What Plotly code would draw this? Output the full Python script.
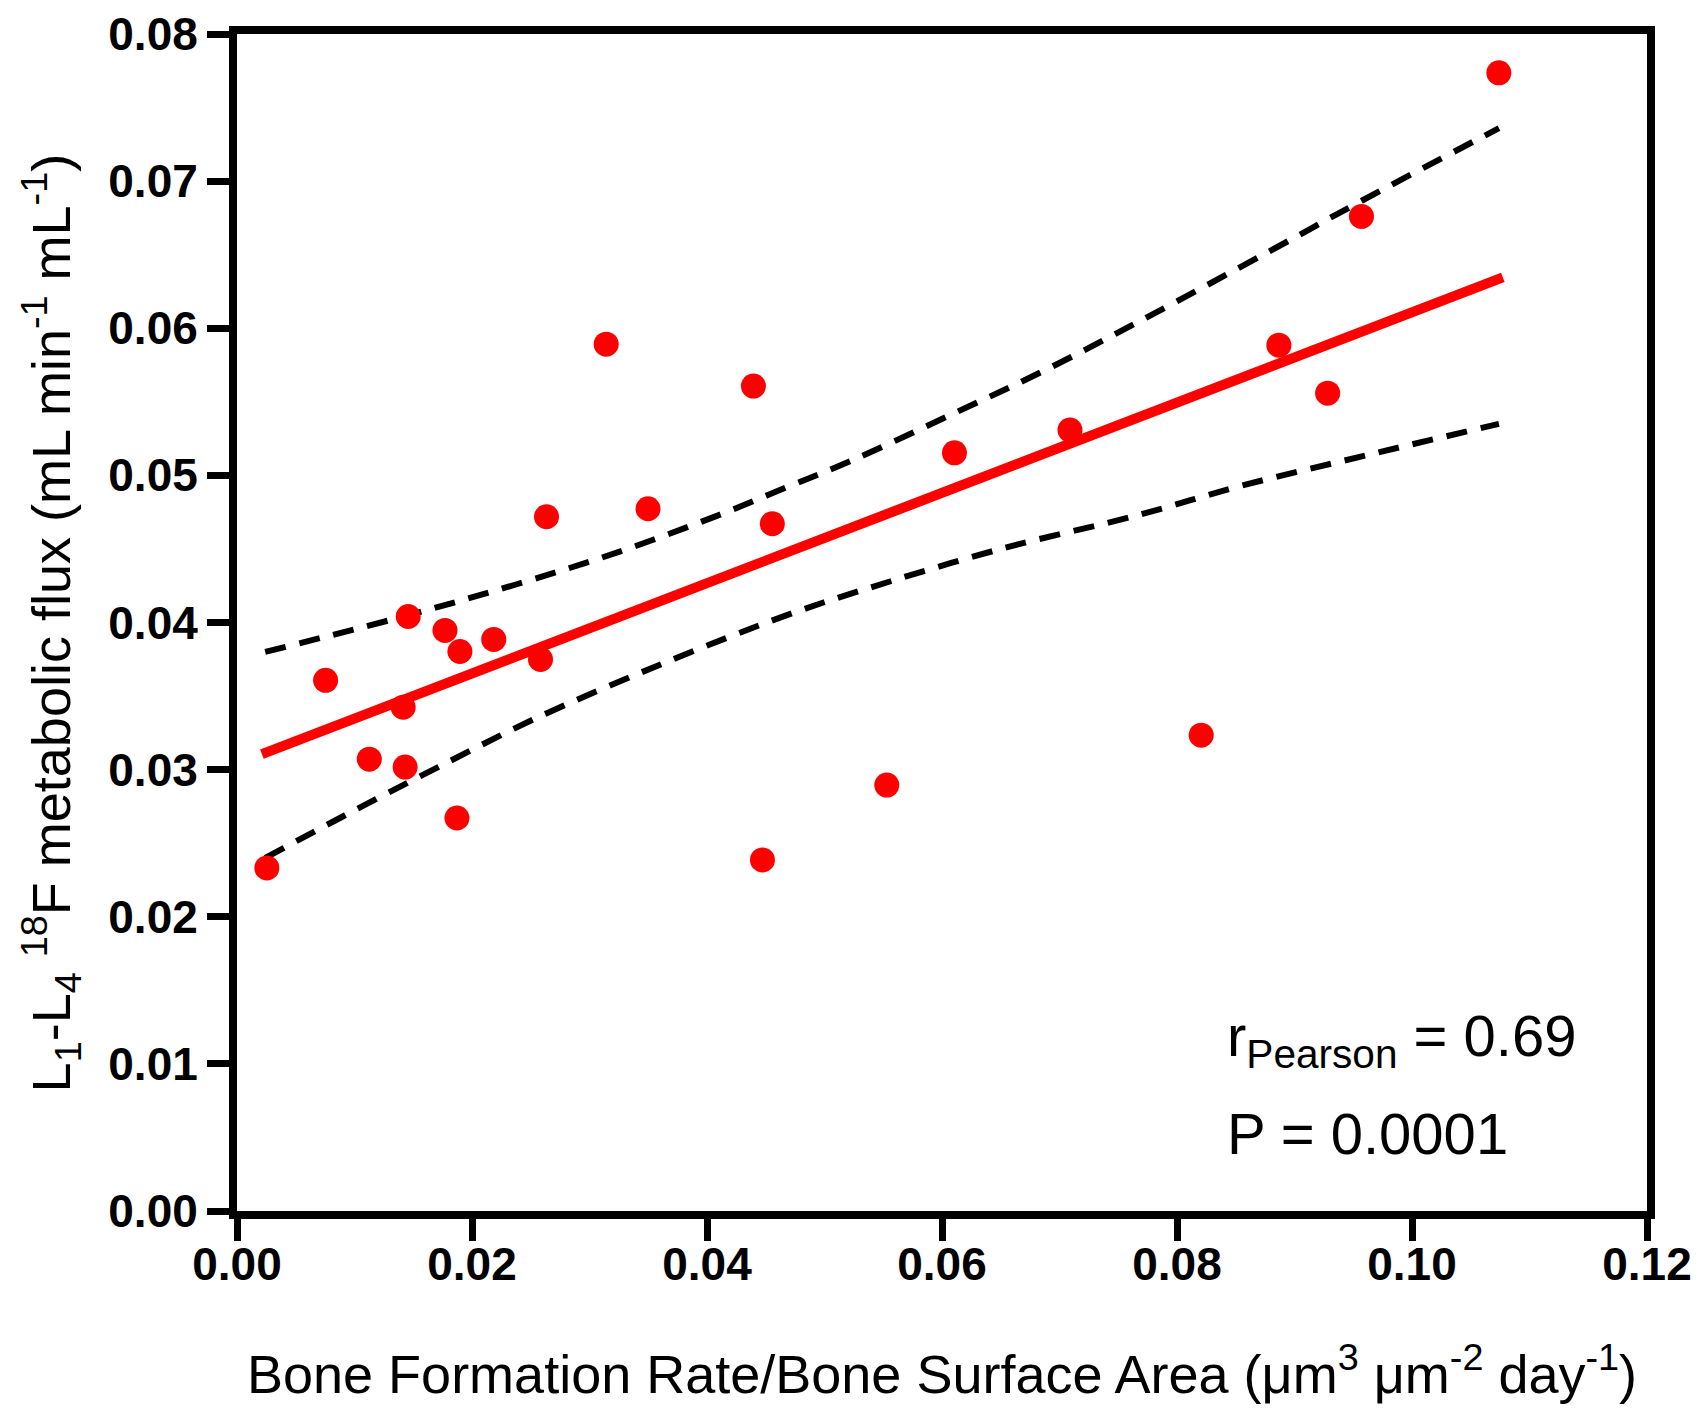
import plotly.graph_objects as go

bfr = [0.00254, 0.00754, 0.01126, 0.01414, 0.01431, 0.01457, 0.0177, 0.01872,
       0.01897, 0.02185, 0.02583, 0.02634, 0.03142, 0.03498, 0.04395, 0.04472,
       0.04556, 0.0553, 0.06106, 0.07089, 0.08206, 0.08867, 0.09282, 0.0957,
       0.10739]
flux = [0.02332, 0.03607, 0.03071, 0.03424, 0.03017, 0.04041, 0.03946, 0.02671,
        0.03803, 0.03885, 0.03749, 0.04719, 0.05892, 0.04773, 0.05607, 0.02386,
        0.04671, 0.02895, 0.05153, 0.05308, 0.03234, 0.05885, 0.05559, 0.0676,
        0.07736]

# linear fit end points
fit_x = [0.00212, 0.10773]
fit_y = [0.03105, 0.06346]

# 95% confidence band
upper_x = [0.0024, 0.0146, 0.0238, 0.0325, 0.0410, 0.0468, 0.0523, 0.0607,
           0.0689, 0.0771, 0.0878, 0.0958, 0.1074]
upper_y = [0.0380, 0.0405, 0.0426, 0.0448, 0.0473, 0.0492, 0.0510, 0.0541,
           0.0572, 0.0606, 0.0652, 0.0687, 0.0736]
lower_x = [0.0024, 0.0092, 0.0167, 0.0252, 0.0362, 0.0468, 0.0532, 0.0650,
           0.0767, 0.0855, 0.0963, 0.1074]
lower_y = [0.0240, 0.0269, 0.0300, 0.0334, 0.0372, 0.0405, 0.0422, 0.0450,
           0.0473, 0.0493, 0.0514, 0.0535]

x_ticks = [0.00, 0.02, 0.04, 0.06, 0.08, 0.10, 0.12]
y_ticks = [0.00, 0.01, 0.02, 0.03, 0.04, 0.05, 0.06, 0.07, 0.08]

FONT = "Liberation Sans, Arial, sans-serif"
dash = dict(color="black", width=6, dash="21px,14px")

fig = go.Figure()
fig.add_trace(go.Scatter(x=upper_x, y=upper_y, mode="lines", line=dash,
                         line_shape="spline"))
fig.add_trace(go.Scatter(x=lower_x, y=lower_y, mode="lines", line=dash,
                         line_shape="spline"))
fig.add_trace(go.Scatter(x=fit_x, y=fit_y, mode="lines",
                         line=dict(color="#ff0000", width=10)))
fig.add_trace(go.Scatter(x=bfr, y=flux, mode="markers",
                         marker=dict(color="#ff0000", size=25)))

axis_common = dict(
    showline=True, linewidth=8, linecolor="black", mirror=True,
    ticks="outside", ticklen=22, tickwidth=7, tickcolor="black",
    showgrid=False, zeroline=False, tickformat=".2f",
    ticklabeloverflow="allow", automargin=False,
    tickfont=dict(family=FONT, size=46, color="black", weight="bold"),
)

fig.update_xaxes(range=[0, 0.12], tickvals=x_ticks, ticklabelstandoff=-16,
                 **axis_common)
fig.update_yaxes(range=[0, 0.08], tickvals=y_ticks, **axis_common)

title_font = dict(family=FONT, size=54, color="black")
fig.add_annotation(
    text="Bone Formation Rate/Bone Surface Area (μm<sup>3</sup> μm<sup>-2</sup> day<sup>-1</sup>)",
    xref="paper", yref="paper", x=0.5, y=-0.135, xanchor="center", yanchor="middle",
    showarrow=False, font=title_font)
fig.add_annotation(
    text="L<sub>1</sub>-L<sub>4</sub> <sup>18</sup>F metabolic flux (mL min<sup>-1</sup> mL<sup>-1</sup>)",
    xref="paper", yref="paper", x=-0.132, y=0.5, xanchor="center", yanchor="middle",
    textangle=-90, showarrow=False, font=title_font)

stat_font = dict(family=FONT, size=58, color="black")
fig.add_annotation(
    text="r<sub>Pearson</sub> = 0.69", xref="paper", yref="paper", x=0.701, y=0.145,
    xanchor="left", yanchor="middle", showarrow=False, font=stat_font)
fig.add_annotation(
    text="P = 0.0001", xref="paper", yref="paper", x=0.701, y=0.066,
    xanchor="left", yanchor="middle", showarrow=False, font=stat_font)

fig.update_layout(
    width=1692, height=1396, showlegend=False,
    paper_bgcolor="white", plot_bgcolor="white",
    margin=dict(l=229, r=53, t=26, b=193),
)

fig.write_html("out.html")
